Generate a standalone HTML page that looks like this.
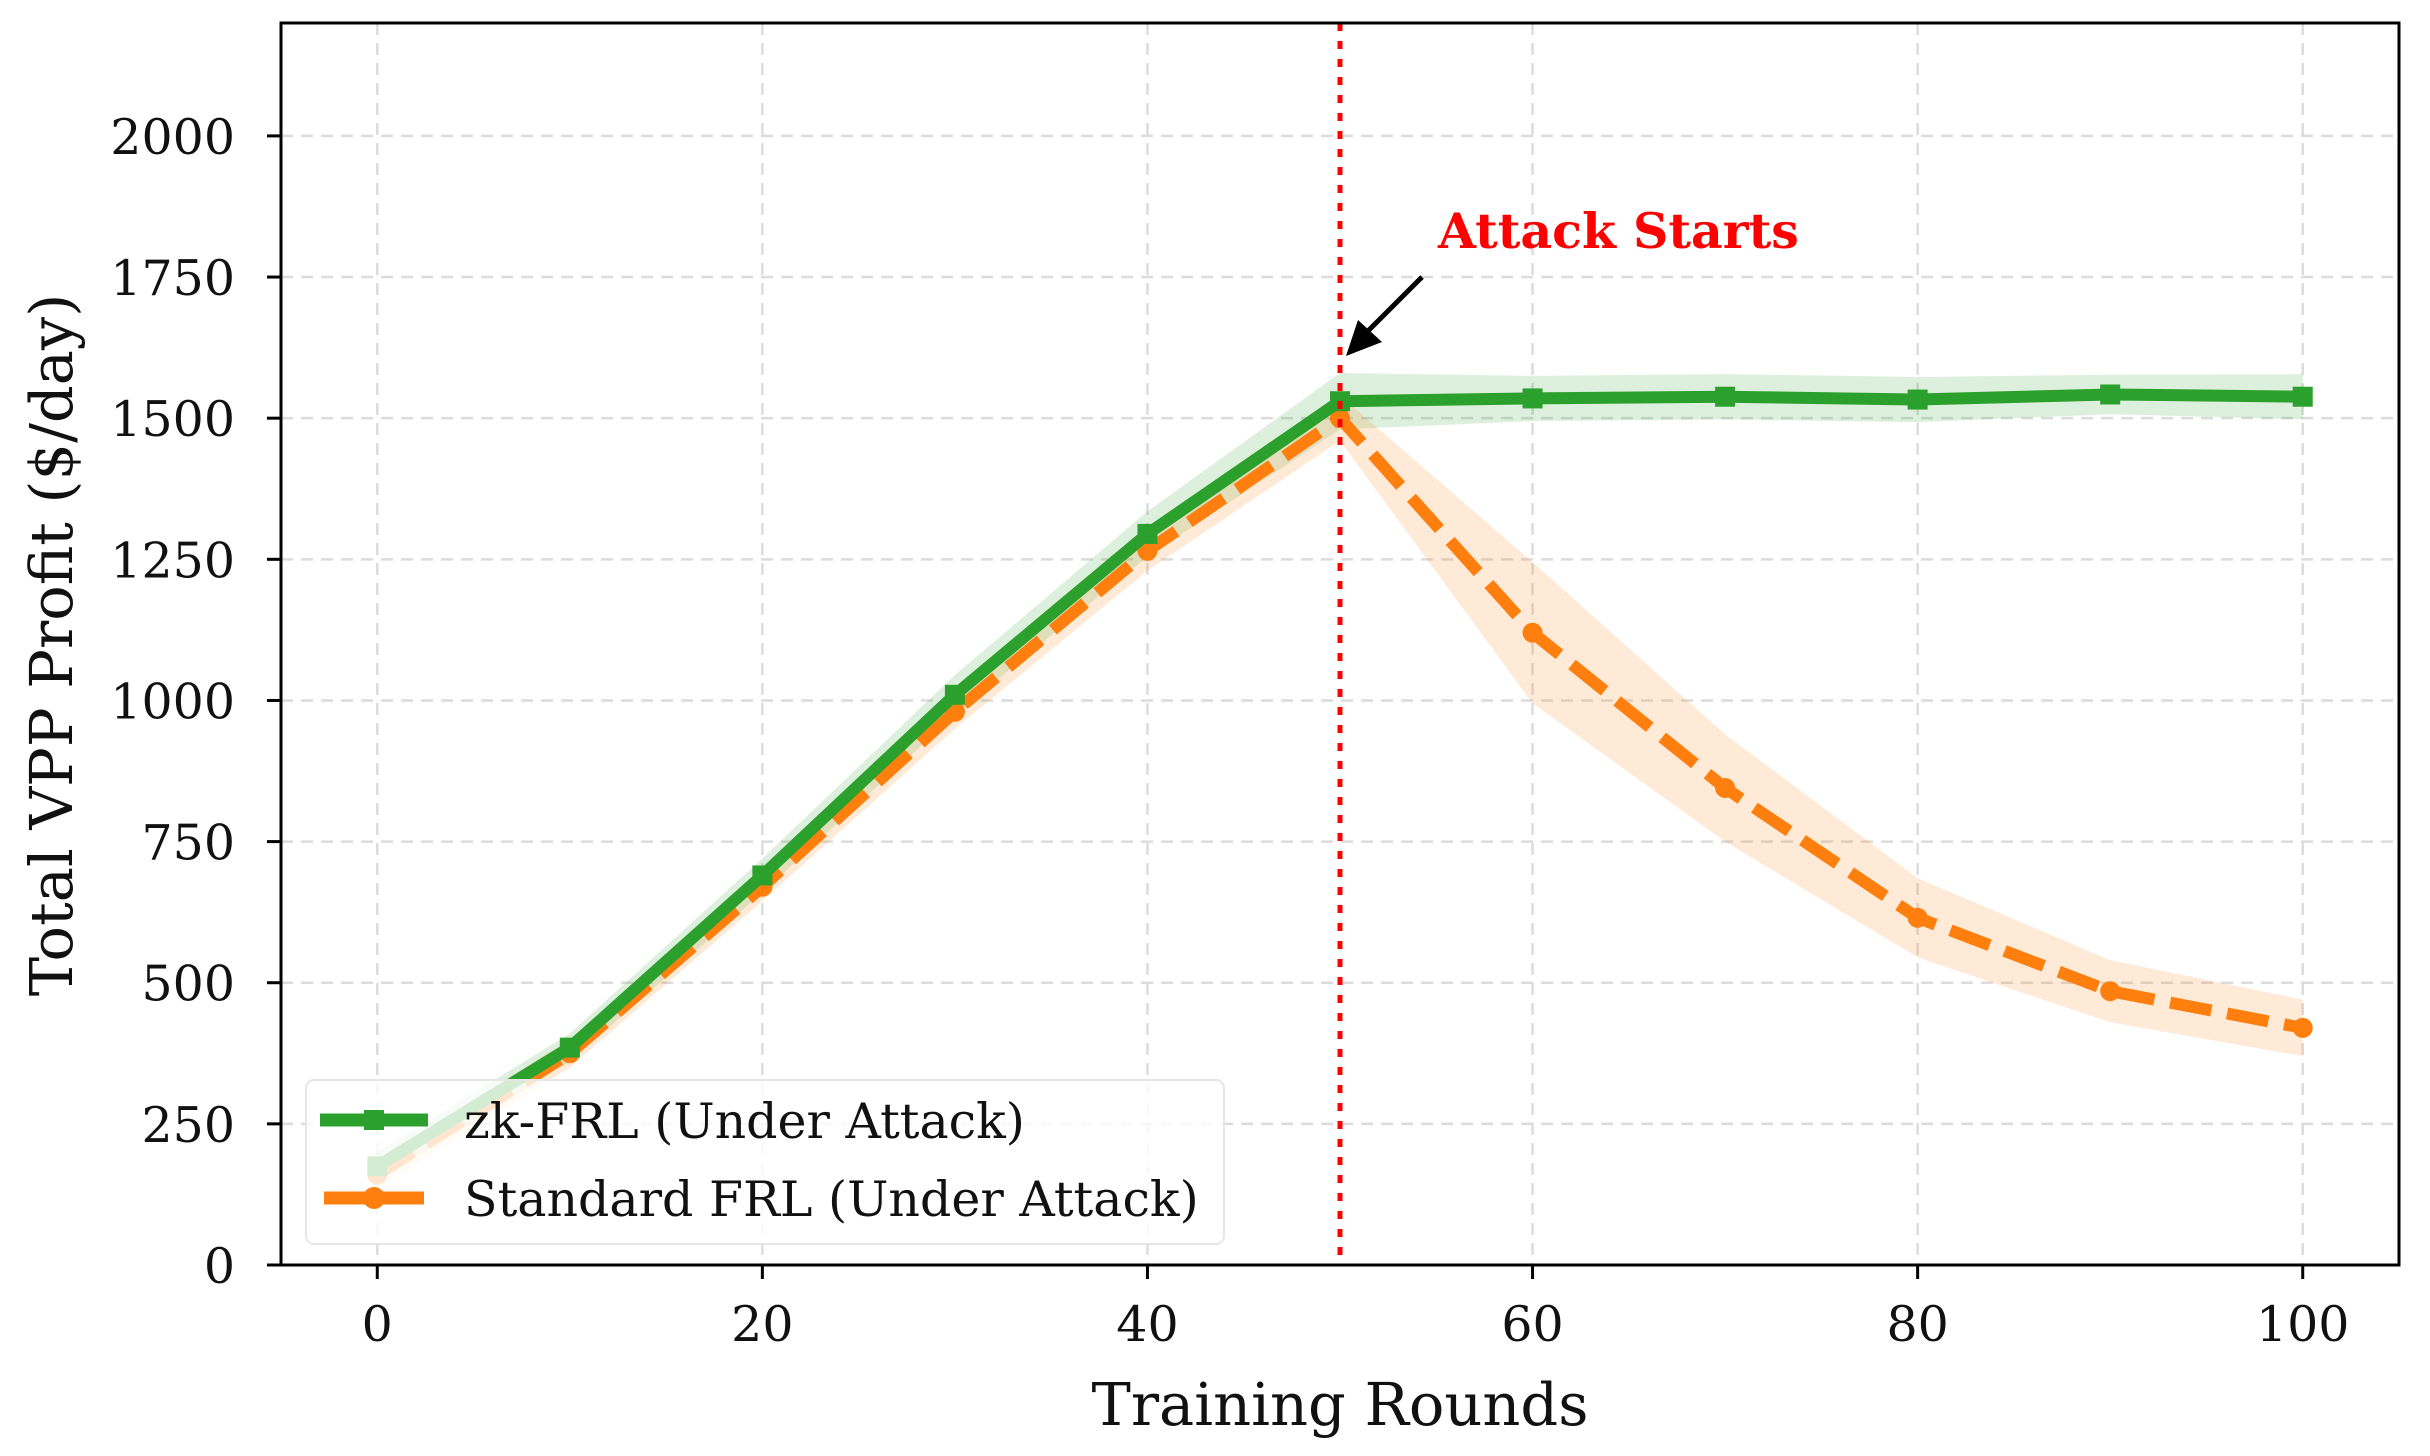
<!DOCTYPE html>
<html><head><meta charset="utf-8"><style>
html,body{margin:0;padding:0;background:#fff;}
svg{display:block;font-family:"DejaVu Serif","Liberation Serif",serif;}
</style></head><body>
<svg id="chart" width="2430" height="1456" viewBox="0 0 2430 1456" xmlns="http://www.w3.org/2000/svg">
<g id="grid"></g>
<g id="bands"></g>
<g id="series"></g>
<g id="axes"></g>
<text x="1340" y="1425" font-size="59" text-anchor="middle" fill="#111">Training Rounds</text>
<text transform="translate(72,645) rotate(-90)" font-size="59" text-anchor="middle" fill="#111">Total VPP Profit ($/day)</text>
<g>
<text x="1438" y="248" font-size="49" font-weight="bold" fill="#ff0000">Attack Starts</text>
<line x1="1422" y1="277" x2="1366" y2="333" stroke="#000" stroke-width="5"/>
<polygon points="1346,356 1358,320 1382,342" fill="#000"/>
</g>
<g>
<rect x="306" y="1080" width="918" height="164" rx="8" fill="#fff" fill-opacity="0.8" stroke="#e6e6e6" stroke-width="2"/>
<g>
<line x1="320" y1="1120" x2="428" y2="1120" stroke="#2ca02c" stroke-width="13"/>
<rect x="364" y="1110" width="20" height="20" fill="#2ca02c"/>
<text x="464" y="1138" font-size="49" fill="#111">zk-FRL (Under Attack)</text>
</g>
<g>
<line x1="324" y1="1198" x2="428" y2="1198" stroke="#ff7f0e" stroke-width="13" stroke-dasharray="42,16"/>
<circle cx="374" cy="1198" r="11" fill="#ff7f0e"/>
<text x="464" y="1216" font-size="49" fill="#111">Standard FRL (Under Attack)</text>
</g>
</g>
</svg>
<script>
const rounds = [0,10,20,30,40,50,60,70,80,90,100];
const zkMean = [175,385,690,1010,1295,1530,1535,1538,1533,1542,1538];
const zkStd = [25,25,30,35,40,50,40,40,40,35,40];
const stdMean = [160,375,670,980,1265,1500,1120,845,615,485,420];
const stdStd = [25,25,25,30,35,40,125,95,70,55,50];
const xTicks = [0,20,40,60,80,100];
const yTicks = [0,250,500,750,1000,1250,1500,1750,2000];
const attackRound = 50;

const L=281,R=2399,T=23,B=1265,X0=-5,X1=105,Y0=0,Y1=2200;
const sx=v=>L+(v-X0)/(X1-X0)*(R-L);
const sy=v=>B-(v-Y0)/(Y1-Y0)*(B-T);
const NS='http://www.w3.org/2000/svg';
function mk(tag,attrs,parent){const e=document.createElementNS(NS,tag);for(const k in attrs)e.setAttribute(k,attrs[k]);parent.appendChild(e);return e;}
const grid=document.getElementById('grid'),bands=document.getElementById('bands'),series=document.getElementById('series'),axes=document.getElementById('axes');

xTicks.forEach(t=>{const g=mk('line',{x1:sx(t),x2:sx(t),y1:T,y2:B,stroke:'#dcdcdc','stroke-width':2.5,'stroke-dasharray':'12,8'},grid);

});
yTicks.forEach(t=>{const g=mk('line',{x1:L,x2:R,y1:sy(t),y2:sy(t),stroke:'#dcdcdc','stroke-width':2.5,'stroke-dasharray':'12,8'},grid);

});

function band(mean,std,color,name){
  let pts=rounds.map((r,i)=>sx(r)+','+sy(mean[i]+std[i]));
  pts=pts.concat(rounds.map((r,i)=>sx(r)+','+sy(mean[i]-std[i])).reverse());
  const p=mk('polygon',{points:pts.join(' '),fill:color,'fill-opacity':0.16},bands);
  
  
}
band(zkMean,zkStd,'#2ca02c','zk-frl-band');
band(stdMean,stdStd,'#ff7f0e','standard-frl-band');

const stdLine=mk('polyline',{points:rounds.map((r,i)=>sx(r)+','+sy(stdMean[i])).join(' '),fill:'none',stroke:'#ff7f0e','stroke-width':12,'stroke-dasharray':'42,16'},series);


rounds.forEach((r,i)=>{const c=mk('circle',{cx:sx(r),cy:sy(stdMean[i]),r:10,fill:'#ff7f0e'},series);

});

const zkLine=mk('polyline',{points:rounds.map((r,i)=>sx(r)+','+sy(zkMean[i])).join(' '),fill:'none',stroke:'#2ca02c','stroke-width':12},series);


rounds.forEach((r,i)=>{const m=mk('rect',{x:sx(r)-10,y:sy(zkMean[i])-10,width:20,height:20,fill:'#2ca02c'},series);

});

const vl=mk('line',{x1:sx(attackRound),x2:sx(attackRound),y1:T,y2:B,stroke:'#ff0000','stroke-width':5,'stroke-dasharray':'8,10'},series);



const frame=mk('rect',{x:L,y:T,width:R-L,height:B-T,fill:'none',stroke:'#000','stroke-width':3},axes);


xTicks.forEach(t=>{const l=mk('line',{x1:sx(t),x2:sx(t),y1:B,y2:B+14,stroke:'#000','stroke-width':3},axes);


const tx=mk('text',{x:sx(t),y:B+76,'font-size':49,'text-anchor':'middle',fill:'#111'},axes);tx.textContent=t;

});
yTicks.forEach(t=>{const l=mk('line',{x1:L-14,x2:L,y1:sy(t),y2:sy(t),stroke:'#000','stroke-width':3},axes);


const tx=mk('text',{x:L-46,y:sy(t)+18,'font-size':49,'text-anchor':'end',fill:'#111'},axes);tx.textContent=t;

});
</script>
</body></html>
